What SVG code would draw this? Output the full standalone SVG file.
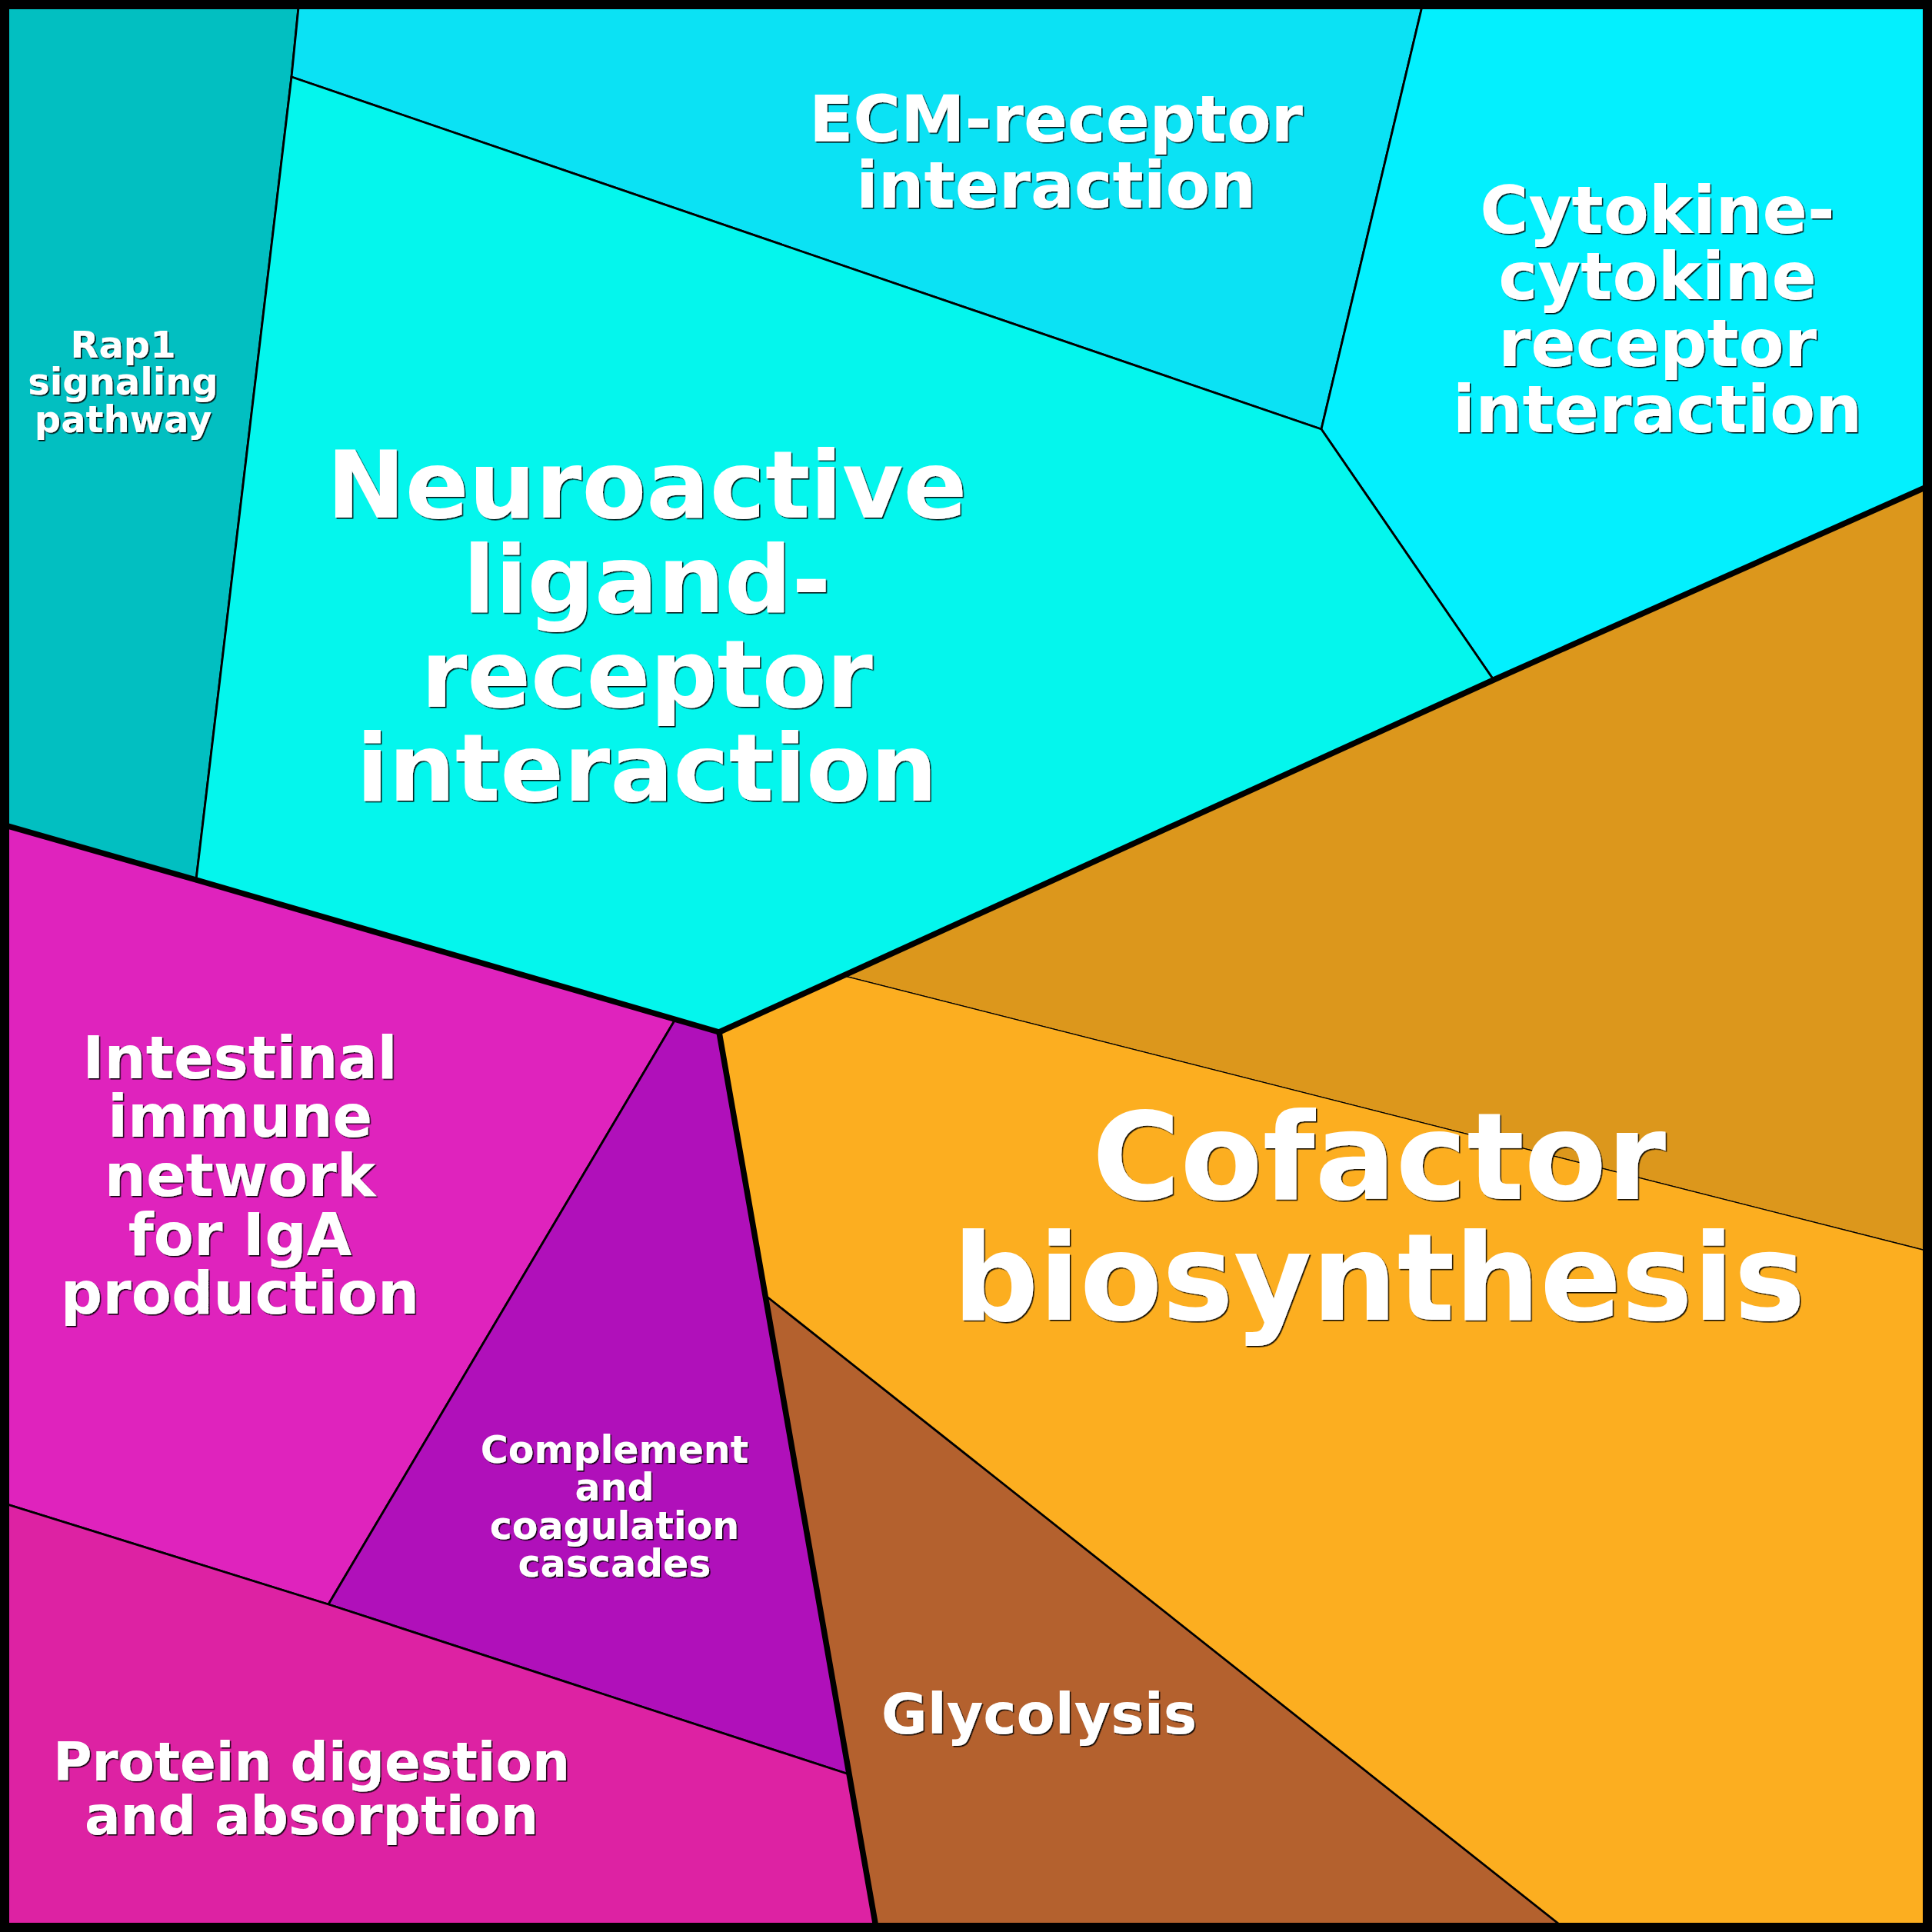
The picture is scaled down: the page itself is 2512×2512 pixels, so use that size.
<svg xmlns="http://www.w3.org/2000/svg" width="2512" height="2512" viewBox="0 0 2512 2512">
<defs>
<filter id="sh" x="-5%" y="-5%" width="110%" height="115%">
<feDropShadow dx="1.6" dy="1.6" stdDeviation="0.6" flood-color="#000" flood-opacity="0.9"/>
</filter>
</defs>
<style>
.cell{stroke:#000;stroke-width:2.8;stroke-linejoin:round}
.fine{stroke-width:1.3}
.lbl{font-family:"DejaVu Sans","Liberation Sans",sans-serif;font-weight:bold;fill:#fff;text-anchor:middle;filter:url(#sh)}
.grp{fill:none;stroke:#000;stroke-width:7.5;stroke-linejoin:round;stroke-linecap:round}
</style>
<g id="rap1">
<polygon class="cell" fill="#02BFC1" points="0,0 389,0 379,100 255,1144 0,1071"/>
<text class="lbl" font-size="48"><tspan x="160" y="465">Rap1</tspan><tspan x="160" y="513">signaling</tspan><tspan x="160" y="562">pathway</tspan></text>
</g>
<g id="ecm">
<polygon class="cell" fill="#0BE2F4" points="389,0 1851,0 1718,558 379,100"/>
<text class="lbl" font-size="84"><tspan x="1373" y="184">ECM-receptor</tspan><tspan x="1373" y="270">interaction</tspan></text>
</g>
<g id="cytokine">
<polygon class="cell" fill="#03F0FE" points="1851,0 2512,0 2512,630 1942,884 1718,558"/>
<text class="lbl" font-size="86"><tspan x="2155" y="303">Cytokine-</tspan><tspan x="2155" y="389">cytokine</tspan><tspan x="2155" y="476">receptor</tspan><tspan x="2155" y="562">interaction</tspan></text>
</g>
<g id="neuroactive">
<polygon class="cell" fill="#04F6ED" points="379,100 1718,558 1942,884 935,1342 255,1144"/>
<text class="lbl" font-size="122"><tspan x="841" y="673">Neuroactive</tspan><tspan x="841" y="796">ligand-</tspan><tspan x="841" y="919">receptor</tspan><tspan x="841" y="1041">interaction</tspan></text>
</g>
<g id="cofactor">
<polygon class="cell fine" fill="#DC971C" points="1098,1269 1942,884 2512,630 2512,1628"/>
<polygon class="cell fine" fill="#FCAE20" points="935,1342 1098,1269 2512,1628 2512,2512 2040,2512 996,1685"/>
<text class="lbl" font-size="156"><tspan x="1793" y="1559">Cofactor</tspan><tspan x="1793" y="1716">biosynthesis</tspan></text>
</g>
<g id="glycolysis">
<polygon class="cell" fill="#B4612E" stroke-width="3.5" points="996,1685 2040,2512 1140,2512"/>
<text class="lbl" font-size="73" x="1351" y="2254">Glycolysis</text>
</g>
<g id="intestinal">
<polygon class="cell" fill="#DF23BD" points="0,1071 255,1144 877,1327 427,2086 0,1953"/>
<text class="lbl" font-size="76"><tspan x="312" y="1402">Intestinal</tspan><tspan x="312" y="1478">immune</tspan><tspan x="312" y="1555">network</tspan><tspan x="312" y="1632">for IgA</tspan><tspan x="312" y="1708">production</tspan></text>
</g>
<g id="complement">
<polygon class="cell" fill="#B010BA" points="877,1327 935,1342 996,1685 1104,2307 427,2086"/>
<text class="lbl" font-size="49"><tspan x="799" y="1902">Complement</tspan><tspan x="799" y="1951">and</tspan><tspan x="799" y="2001">coagulation</tspan><tspan x="799" y="2050">cascades</tspan></text>
</g>
<g id="protein">
<polygon class="cell" fill="#DD22A3" points="0,1953 427,2086 1104,2307 1140,2512 0,2512"/>
<text class="lbl" font-size="69"><tspan x="405" y="2315">Protein digestion</tspan><tspan x="405" y="2385">and absorption</tspan></text>
</g>
<g id="borders">
<polyline class="grp" points="0,1071 255,1144 935,1342 1942,884 2512,630"/>
<line class="grp" x1="935" y1="1342" x2="1140" y2="2512"/>
<rect x="0" y="0" width="2512" height="2512" fill="none" stroke="#000" stroke-width="24"/>
</g>
</svg>
